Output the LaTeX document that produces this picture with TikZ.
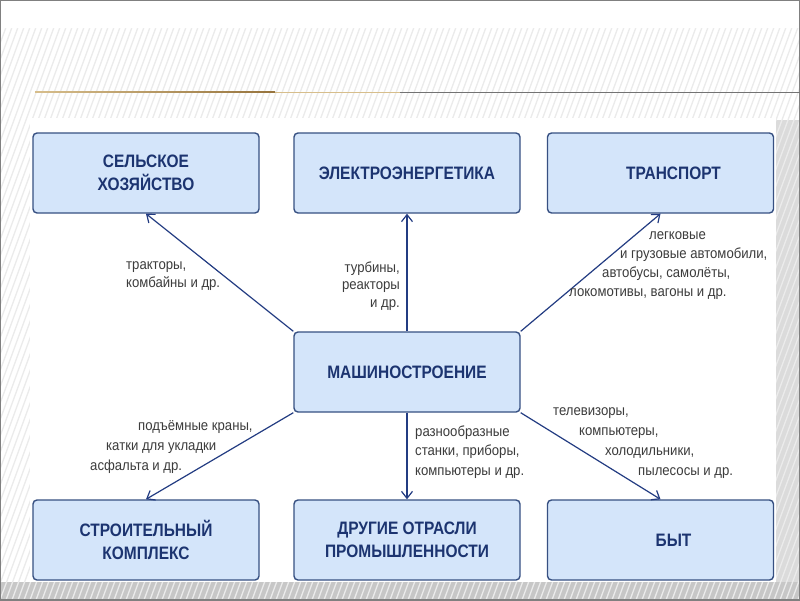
\documentclass[tikz,border=0pt]{standalone}
\usepackage{fontspec}
\setmainfont{Liberation Sans}
\newfontfamily\boxfont[FakeStretch=0.86]{Liberation Sans}
\newfontfamily\labfont[FakeStretch=0.9]{Liberation Sans}
\usetikzlibrary{arrows.meta}
\definecolor{boxfill}{RGB}{212,229,250}
\definecolor{boxline}{RGB}{55,80,130}
\definecolor{boxtext}{RGB}{28,52,112}
\definecolor{arrowblue}{RGB}{35,60,130}
\definecolor{labtext}{RGB}{60,60,60}
\definecolor{titlebrown}{RGB}{150,115,60}
\definecolor{titletan}{RGB}{215,190,140}
\tikzset{
  sector/.style={draw=boxline, line width=1.4pt, fill=boxfill, rounded corners=4pt,
    minimum width=226pt, minimum height=80pt, inner sep=0pt, align=center,
    text=boxtext, font=\boxfont\bfseries\fontsize{18}{23}\selectfont},
  lab/.style={inner sep=0pt, text=labtext, font=\labfont\fontsize{14.6}{19}\selectfont},
  arr/.style={draw=arrowblue, line width=1.2pt, -{Straight Barb[length=7pt,width=11pt]}},
}
\begin{document}
\begin{tikzpicture}[x=1pt,y=-1pt]
\useasboundingbox (0,0) rectangle (800,600);
% background
\fill[white] (0,0) rectangle (800,600);
\fill[black!22] (0,582) rectangle (800,600);
\fill[black!14] (776,120) rectangle (800,582);
\begin{scope}
  \clip (0,0) rectangle (800,600);
  \foreach \i in {-240,-234,...,800} \draw[black!8, line width=1.3pt] (\i,600) -- (\i+220,0);
\end{scope}
\fill[white] (0,0) rectangle (800,28);
\fill[white] (30,118) rectangle (776,582);
\draw[black!50, line width=1.5pt] (0,0) rectangle (800,600);
% title line
\shade[left color=titletan, right color=titlebrown] (35,91.2) rectangle (275,92.8);
\draw[titletan, line width=0.8pt] (275,92) -- (400,92);
\draw[black!55, line width=0.9pt] (400,92) -- (800,92);
% boxes
\node[sector] (agri)  at (146,173)   {СЕЛЬСКОЕ\\ХОЗЯЙСТВО};
\node[sector] (elec)  at (407,173)   {ЭЛЕКТРОЭНЕРГЕТИКА};
\node[sector] (trans) at (660.5,173) {\hspace*{26pt}ТРАНСПОРТ};
\node[sector] (mach)  at (407,372)   {МАШИНОСТРОЕНИЕ};
\node[sector] (build) at (146,540)   {СТРОИТЕЛЬНЫЙ\\КОМПЛЕКС};
\node[sector] (other) at (407,540)   {ДРУГИЕ ОТРАСЛИ\\ПРОМЫШЛЕННОСТИ};
\node[sector] (home)  at (660.5,540) {\hspace*{26pt}БЫТ};
% connectors
\draw[arr] (mach.north west) -- (agri.south);
\draw[arr] (mach.north) -- (elec.south);
\draw[arr] (mach.north east) -- (trans.south);
\draw[arr] (mach.south west) -- (build.north);
\draw[arr] (mach.south) -- (other.north);
\draw[arr] (mach.south east) -- (home.north);
% labels
\node[lab, anchor=west, align=left, font=\labfont\fontsize{14.6}{18}\selectfont] (l1) at (126,276) {тракторы,\\комбайны и др.};
\node[lab, anchor=east, align=right, font=\labfont\fontsize{14.6}{17.5}\selectfont] (l2) at (400,286) {турбины,\\реакторы\\и др.};
\node[lab, anchor=west, align=left] (l3) at (569,266) {\hspace*{80pt}легковые\\\hspace*{51pt}и грузовые автомобили,\\\hspace*{33pt}автобусы, самолёты,\\локомотивы, вагоны и др.};
\node[lab, anchor=west, align=left, font=\labfont\fontsize{14.6}{20}\selectfont] (l4) at (90,447) {\hspace*{48pt}подъёмные краны,\\\hspace*{16pt}катки для укладки\\асфальта и др.};
\node[lab, anchor=west, align=left, font=\labfont\fontsize{14.6}{19.5}\selectfont] (l5) at (415,452) {разнообразные\\станки, приборы,\\компьютеры и др.};
\node[lab, anchor=west, align=left, font=\labfont\fontsize{14.6}{20}\selectfont] (l6) at (553,443.5) {телевизоры,\\\hspace*{26pt}компьютеры,\\\hspace*{52pt}холодильники,\\\hspace*{85pt}пылесосы и др.};
\end{tikzpicture}
\end{document}
